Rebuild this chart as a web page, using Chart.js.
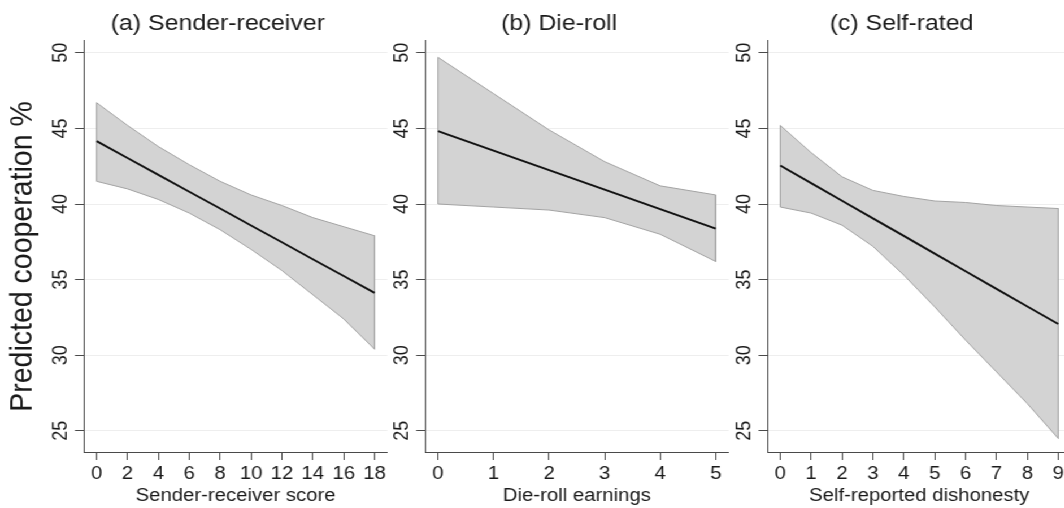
<!DOCTYPE html>
<html>
<head>
<meta charset="utf-8">
<script src="https://cdn.jsdelivr.net/npm/chart.js@4.4.1/dist/chart.umd.min.js"></script>
<style>
  html, body { margin: 0; padding: 0; background: #fff; overflow: hidden; }
  #wrap { position: relative; width: 942px; height: 508px; transform: scaleX(1.13); transform-origin: 0 0; }
  #wrap canvas { position: absolute; top: 0; }
</style>
</head>
<body>
<div id="wrap">
  <canvas id="panelA" width="345" height="508" style="left:0px"></canvas>
  <canvas id="panelB" width="345" height="508" style="left:302.4px"></canvas>
  <canvas id="panelC" width="345" height="508" style="left:605.3px"></canvas>
</div>
<script>
// values
const yTicks = [25, 30, 35, 40, 45, 50];

const xA = [0, 2, 4, 6, 8, 10, 12, 14, 16, 18];
const fitA = [44.16, 43.04, 41.93, 40.81, 39.70, 38.58, 37.47, 36.35, 35.24, 34.12];
const upA = [46.7, 45.2, 43.8, 42.6, 41.5, 40.6, 39.9, 39.1, 38.5, 37.9];
const loA = [41.5, 41.0, 40.3, 39.4, 38.3, 37.0, 35.6, 34.0, 32.4, 30.4];

const xB = [0, 1, 2, 3, 4, 5];
const fitB = [44.82, 43.53, 42.24, 40.95, 39.66, 38.37];
const upB = [49.7, 47.3, 44.9, 42.8, 41.2, 40.6];
const loB = [40.0, 39.8, 39.6, 39.1, 38.0, 36.2];

const xC = [0, 1, 2, 3, 4, 5, 6, 7, 8, 9];
const fitC = [42.55, 41.38, 40.22, 39.05, 37.89, 36.72, 35.55, 34.39, 33.22, 32.06];
const upC = [45.2, 43.4, 41.8, 40.9, 40.5, 40.2, 40.1, 39.9, 39.8, 39.7];
const loC = [39.8, 39.4, 38.6, 37.2, 35.3, 33.2, 31.0, 28.9, 26.8, 24.5];

const FONT = "'Liberation Sans', Arial, Helvetica, sans-serif";
const TEXT = '#1a1a1a';
const AXIS = '#4a4a4a';
Chart.defaults.font.family = FONT;
Chart.defaults.color = TEXT;

// rotated y tick labels, panel title and the shared y title
const panelText = {
  id: 'panelText',
  afterDraw(chart, args, opts) {
    const { ctx, chartArea } = chart;
    const y = chart.scales.y;
    ctx.save();
    ctx.fillStyle = TEXT;
    ctx.textAlign = 'center';
    ctx.textBaseline = 'middle';
    ctx.font = '18px ' + FONT;
    yTicks.forEach(v => {
      ctx.save();
      ctx.translate(chartArea.left - 20.6, y.getPixelForValue(v));
      ctx.rotate(-Math.PI / 2);
      ctx.fillText(String(v), 0, 0);
      ctx.restore();
    });
    ctx.font = '22px ' + FONT;
    ctx.fillText(opts.title, (chartArea.left + chartArea.right) / 2 - 15.7, 24);
    if (opts.yTitle) {
      ctx.font = '28.5px ' + FONT;
      ctx.translate(20.6, 256.5);
      ctx.rotate(-Math.PI / 2);
      ctx.fillText(opts.yTitle, 0, 0);
    }
    ctx.restore();
  }
};

function makePanel(id, xs, fit, up, lo, xTitle, title, xMin, xMax, yTitle) {
  const band = xs.map((x, i) => ({ x: x, y: up[i] }))
    .concat(xs.map((x, i) => ({ x: x, y: lo[i] })).reverse());
  band.push(band[0]);

  new Chart(document.getElementById(id), {
    type: 'line',
    data: {
      datasets: [{
        data: xs.map((x, i) => ({ x: x, y: fit[i] })),
        borderColor: '#111111',
        borderWidth: 1.9,
        pointRadius: 0,
        fill: false
      }, {
        data: band,
        borderColor: '#a3a3a3',
        borderWidth: 1,
        backgroundColor: '#d3d3d3',
        pointRadius: 0,
        fill: 'shape'
      }]
    },
    options: {
      responsive: false,
      animation: false,
      devicePixelRatio: 1,
      layout: { padding: { top: 40.7, right: 2.3, left: 0, bottom: 0 } },
      plugins: {
        legend: { display: false },
        tooltip: { enabled: false },
        panelText: { title: title, yTitle: yTitle }
      },
      scales: {
        x: {
          type: 'linear',
          min: xMin,
          max: xMax,
          afterBuildTicks: s => { s.ticks = xs.map(v => ({ value: v })); },
          afterFit: s => { s.height = 56; },
          grid: { drawOnChartArea: false, drawTicks: true, tickLength: 8, tickColor: AXIS },
          border: { display: true, color: AXIS, width: 1 },
          ticks: { font: { size: 18 }, padding: 3, maxRotation: 0, autoSkip: false },
          title: { display: true, text: xTitle, font: { size: 18 }, padding: { top: 0, bottom: 1.5 } }
        },
        y: {
          min: 23.6,
          max: 50.8,
          afterBuildTicks: s => { s.ticks = yTicks.map(v => ({ value: v })); },
          afterFit: s => { s.width = 74.3; },
          grid: { color: '#eeeeee', tickColor: AXIS, tickLength: 8, drawTicks: true },
          border: { display: true, color: AXIS, width: 1 },
          ticks: { display: false }
        }
      }
    },
    plugins: [panelText]
  });
}

makePanel('panelA', xA, fitA, upA, loA, 'Sender-receiver score', '(a) Sender-receiver', -0.82, 18.82, 'Predicted cooperation %');
makePanel('panelB', xB, fitB, upB, loB, 'Die-roll earnings', '(b) Die-roll', -0.23, 5.23);
makePanel('panelC', xC, fitC, upC, loC, 'Self-reported dishonesty', '(c) Self-rated', -0.41, 9.41);
</script>
</body>
</html>
